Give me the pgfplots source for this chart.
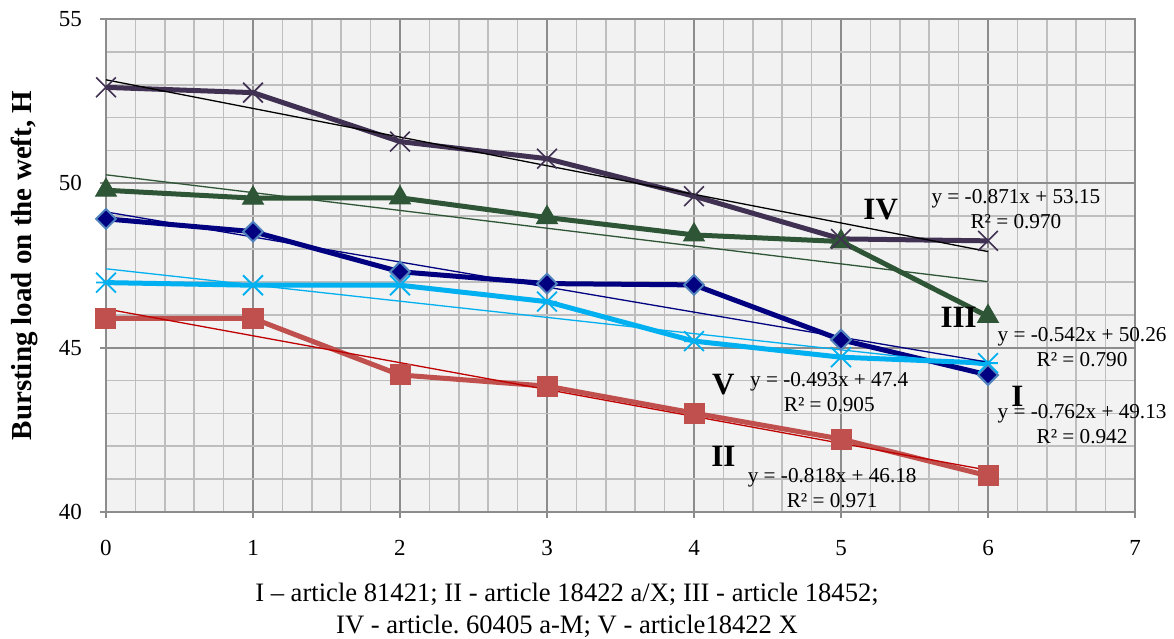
\documentclass[border=0pt]{standalone}
\usepackage{pgfplots}
\pgfplotsset{compat=1.18}
\usepackage{fontspec}
\setmainfont{Liberation Serif}
\definecolor{cIV}{HTML}{403152}
\definecolor{cIII}{HTML}{2E5535}
\definecolor{cI}{HTML}{000080}
\definecolor{cIedge}{HTML}{4F81BD}
\definecolor{cV}{HTML}{00B0F0}
\definecolor{cII}{HTML}{C0504D}
\definecolor{cIItr}{HTML}{C00000}
\definecolor{gmaj}{HTML}{8C8C8C}
\definecolor{gmin}{HTML}{BEBEBE}
\definecolor{bg}{HTML}{F2F2F2}
\pgfdeclareplotmark{xstar}{%
  \pgfpathmoveto{\pgfqpoint{-.7071\pgfplotmarksize}{-.7071\pgfplotmarksize}}%
  \pgfpathlineto{\pgfqpoint{.7071\pgfplotmarksize}{.7071\pgfplotmarksize}}%
  \pgfpathmoveto{\pgfqpoint{-.7071\pgfplotmarksize}{.7071\pgfplotmarksize}}%
  \pgfpathlineto{\pgfqpoint{.7071\pgfplotmarksize}{-.7071\pgfplotmarksize}}%
  \pgfpathmoveto{\pgfqpoint{-.7071\pgfplotmarksize}{0pt}}%
  \pgfpathlineto{\pgfqpoint{.7071\pgfplotmarksize}{0pt}}%
  \pgfusepathqstroke}
\begin{document}
\frenchspacing
\begin{tikzpicture}
\begin{axis}[
  scale only axis, width=514.5pt, height=246.5pt,
  xmin=0, xmax=7, ymin=40, ymax=55,
  xtick={0,1,2,3,4,5,6,7}, ytick={40,45,50,55},
  minor x tick num=4, minor y tick num=4,
  grid=both,
  major grid style={gmaj, line width=0.9pt},
  minor grid style={gmin, line width=0.8pt},
  axis line style={gmaj, line width=0.9pt},
  axis background/.style={fill=bg},
  tick align=outside, major tick length=3pt, minor tick length=0pt,
  xtick pos=left, ytick pos=left,
  tick style={gmaj, line width=0.9pt},
  ticklabel style={font=\fontsize{11.5}{13}\selectfont},
  /pgf/number format/assume math mode=true,
  xticklabel style={yshift=-7.5pt},
  yticklabel style={xshift=-5.5pt},
  clip=false,
  ylabel={Bursting load on the weft, H},
  ylabel style={at={(axis description cs:-0.079,0.5)}, anchor=center, font=\bfseries\fontsize{14.5}{17}\selectfont},
  xlabel={I – article 81421; II - article 18422 a/X; III - article 18452;\\IV - article. 60405 a-M; V - article18422 X},
  xlabel style={at={(axis description cs:0.448,0)}, anchor=north, yshift=-32pt, align=center, font=\fontsize{13.3}{16}\selectfont},
]
% Series I
\addplot[cI, line width=2.5pt, mark=square*, mark size=3.5pt, mark options={solid, rotate=45, fill=cI, draw=cIedge, line width=1pt}]
  coordinates {(0,48.92)(1,48.53)(2,47.31)(3,46.95)(4,46.91)(5,45.24)(6,44.17)};
% Series II
\addplot[cII, line width=2.5pt, mark=square*, mark size=5pt, mark options={solid, fill=cII, draw=cII, line width=0.5pt}]
  coordinates {(0,45.89)(1,45.89)(2,44.17)(3,43.83)(4,43.01)(5,42.22)(6,41.10)};
% Series III
\addplot[cIII, line width=2.5pt, mark=triangle*, mark size=6pt, mark options={solid, fill=cIII, draw=cIII, line width=0.5pt}]
  coordinates {(0,49.79)(1,49.55)(2,49.56)(3,48.96)(4,48.43)(5,48.23)(6,45.95)};
% Series IV
\addplot[cIV, line width=2.5pt, mark=x, mark size=7pt, mark options={solid, draw=cIV, line width=0.8pt}]
  coordinates {(0,52.92)(1,52.76)(2,51.27)(3,50.75)(4,49.61)(5,48.31)(6,48.25)};
% Series V
\addplot[cV, line width=2.5pt, mark=xstar, mark size=7pt, mark options={solid, draw=cV, line width=0.9pt}]
  coordinates {(0,46.98)(1,46.90)(2,46.90)(3,46.40)(4,45.20)(5,44.71)(6,44.53)};
% Trend lines
\addplot[cI, line width=0.65pt] coordinates {(0,49.13)(6,44.558)};
\addplot[cIItr, line width=0.65pt] coordinates {(0,46.18)(6,41.272)};
\addplot[cIII, line width=0.65pt] coordinates {(0,50.26)(6,47.008)};
\addplot[black, line width=0.65pt] coordinates {(0,53.15)(6,47.924)};
\addplot[cV, line width=0.65pt] coordinates {(0,47.4)(6,44.442)};
% Labels
\node[font=\bfseries\fontsize{15.5}{18}\selectfont] at (axis cs:5.27,49.19) {IV};
\node[font=\bfseries\fontsize{15.5}{18}\selectfont] at (axis cs:5.80,45.93) {III};
\node[font=\bfseries\fontsize{15.5}{18}\selectfont] at (axis cs:6.20,43.52) {I};
\node[font=\bfseries\fontsize{15.5}{18}\selectfont] at (axis cs:4.20,43.88) {V};
\node[font=\bfseries\fontsize{15.5}{18}\selectfont] at (axis cs:4.20,41.68) {II};
\node[align=center, font=\fontsize{10.6}{12.5}\selectfont] at (axis cs:6.19,49.23) {y = -0.871x + 53.15\\R² = 0.970};
\node[align=center, font=\fontsize{10.6}{12.5}\selectfont] at (axis cs:6.64,45.02) {y = -0.542x + 50.26\\R² = 0.790};
\node[align=center, font=\fontsize{10.6}{12.5}\selectfont] at (axis cs:6.64,42.68) {y = -0.762x + 49.13\\R² = 0.942};
\node[align=center, font=\fontsize{10.6}{12.5}\selectfont] at (axis cs:4.92,43.65) {y = -0.493x + 47.4\\R² = 0.905};
\node[align=center, font=\fontsize{10.6}{12.5}\selectfont] at (axis cs:4.94,40.72) {y = -0.818x + 46.18\\R² = 0.971};
\end{axis}
\pgfresetboundingbox
\path (current axis.south west) ++(-53pt,-63pt) coordinate (bbsw);
\path (current axis.north east) ++(19.5pt,9.5pt) coordinate (bbne);
\path (bbsw) rectangle (bbne);
\end{tikzpicture}
\end{document}
